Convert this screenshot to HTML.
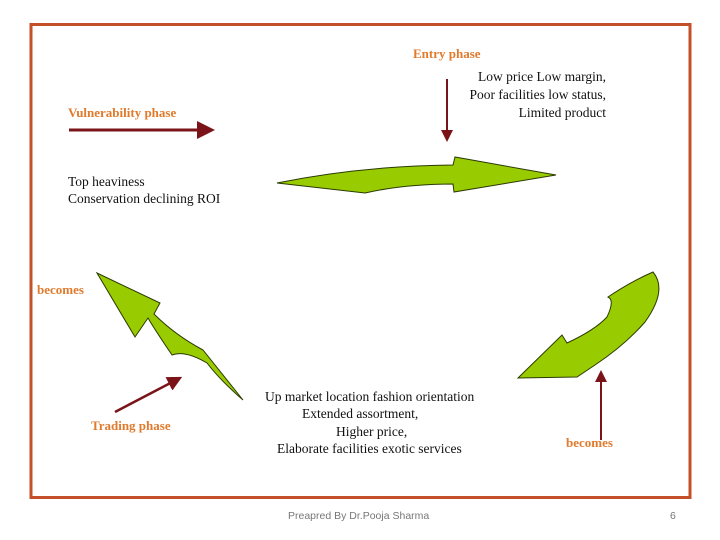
<!DOCTYPE html>
<html><head><meta charset="utf-8"><style>
html,body{margin:0;padding:0;background:#fff;}
svg{display:block;}
.s{font-family:"Liberation Serif",serif;}
.o{fill:#e07a2c;font-weight:bold;font-size:13px;}
.b{fill:#111;font-size:13.5px;}
</style></head><body>
<svg width="720" height="540" viewBox="0 0 720 540" xmlns="http://www.w3.org/2000/svg">
<rect x="31" y="24.5" width="659" height="473" fill="none" stroke="#c4502a" stroke-width="3"/>
<defs><marker id="ah" markerWidth="6" markerHeight="6" refX="5" refY="3" orient="auto" markerUnits="strokeWidth"><path d="M0,0 L6,3 L0,6 z" fill="#7a1419"/></marker></defs>
<!-- green arrows -->
<path d="M277,183 Q360,166 453,165 L455,157 L556,175 L454,192 L453,184 Q405,184 365,193 Z" fill="#99cc00" stroke="#2a3a00" stroke-width="1"/>
<path d="M653,272 Q668,290 645,322 Q625,345 595,365 L577,377 L518,378 L562,335 L567,343 Q595,330 607,317 Q615,300 608,297 Q630,282 653,272 Z" fill="#99cc00" stroke="#2a3a00" stroke-width="1"/>
<path d="M97,273 L160,303 L154,314 Q175,335 203,350 L243,400 Q220,380 207,363 Q185,350 172,355 Q155,330 148,318 L135,337 Z" fill="#99cc00" stroke="#2a3a00" stroke-width="1"/>
<!-- red arrows -->
<line x1="69" y1="130" x2="212" y2="130" stroke="#7a1419" stroke-width="3" marker-end="url(#ah)"/>
<line x1="447" y1="79" x2="447" y2="140" stroke="#7a1419" stroke-width="2" marker-end="url(#ah)"/>
<line x1="115" y1="412" x2="180" y2="378" stroke="#7a1419" stroke-width="2.5" marker-end="url(#ah)"/>
<line x1="601" y1="440" x2="601" y2="372" stroke="#7a1419" stroke-width="2" marker-end="url(#ah)"/>
<!-- text -->
<g class="s">
<text class="o" x="413" y="58">Entry phase</text>
<text class="o" x="68" y="117">Vulnerability phase</text>
<text class="o" x="37" y="294">becomes</text>
<text class="o" x="91" y="430">Trading phase</text>
<text class="o" x="566" y="447">becomes</text>
<g class="b" text-anchor="end">
<text x="606" y="81">Low price Low margin,</text>
<text x="606" y="99">Poor facilities low status,</text>
<text x="606" y="117">Limited product</text>
</g>
<text class="b" x="68" y="186">Top heaviness</text>
<text class="b" x="68" y="203">Conservation declining ROI</text>
<text class="b" x="265" y="401">Up market location fashion orientation</text>
<text class="b" x="302" y="418">Extended assortment,</text>
<text class="b" x="336" y="436">Higher price,</text>
<text class="b" x="277" y="453">Elaborate facilities exotic services</text>
</g>
<text x="288" y="519" font-family="Liberation Sans, sans-serif" font-size="10.5" fill="#777">Preapred By Dr.Pooja Sharma</text>
<text x="670" y="519" font-family="Liberation Sans, sans-serif" font-size="10.5" fill="#777">6</text>
</svg>
</body></html>
